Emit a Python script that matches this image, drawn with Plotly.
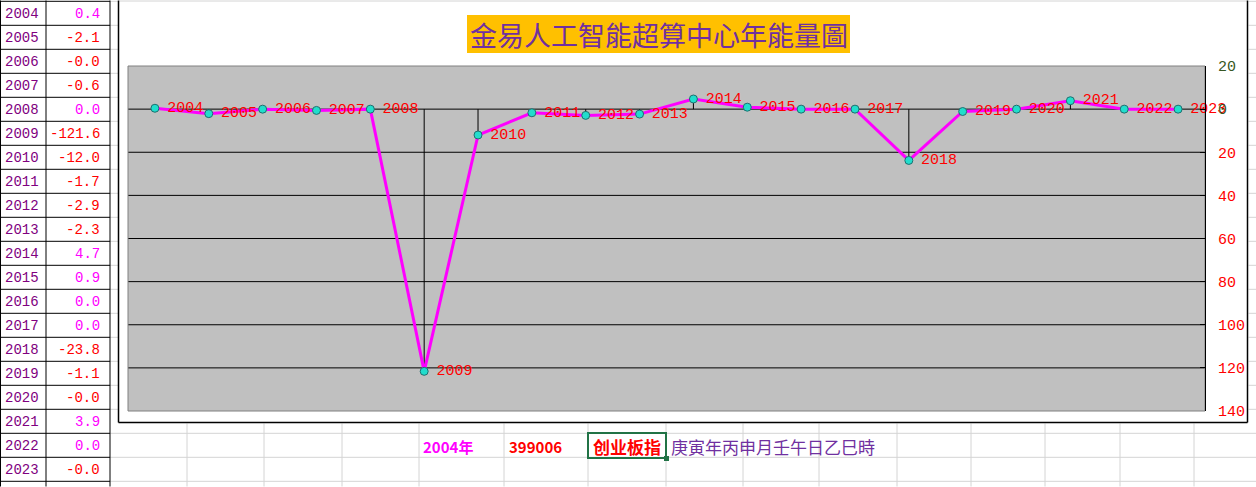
import plotly.graph_objects as go

W, H = 1256, 487

# ---------------- data ----------------
years = [str(y) for y in range(2004, 2024)]
values = [0.4, -2.1, -0.02, -0.6, 0.0, -121.6, -12.0, -1.7, -2.9, -2.3,
          4.7, 0.9, 0.0, 0.0, -23.8, -1.1, -0.02, 3.9, 0.0, -0.02]
y_ticks = [20, 0, -20, -40, -60, -80, -100, -120, -140]
title_text = "金易人工智能超算中心年能量圖"
bottom_year = "2004年"
bottom_code = "399006"
bottom_name = "创业板指"
bottom_date = "庚寅年丙申月壬午日乙巳時"


def X(px):
    return px / W


def Y(py):
    return 1 - py / H


RED = "#FF0000"
MAG = "#FF00FF"
PURPLE = "#800080"
GRID = "#D4D4D4"
GREEN = "#375623"

fig = go.Figure()

# drop lines (point to category axis)
dx, dy = [], []
for c, v in zip(years, values):
    dx += [c, c, None]
    dy += [v, 0, None]
fig.add_trace(go.Scatter(x=dx, y=dy, mode="lines", line=dict(color="black", width=1),
                         hoverinfo="skip", showlegend=False))

# main series line + markers
fig.add_trace(go.Scatter(
    x=years, y=values, mode="lines+markers",
    line=dict(color=MAG, width=3),
    marker=dict(size=8, color="#22DDCC", line=dict(color="#1F6F6F", width=1)),
    showlegend=False,
))
# data labels (right of points)
fig.add_trace(go.Scatter(
    x=years, y=values, mode="markers+text",
    marker=dict(size=18, color="rgba(0,0,0,0)"),
    text=years, textposition="middle right",
    textfont=dict(family="Liberation Mono", size=15, color=RED),
    showlegend=False, cliponaxis=False, hoverinfo="skip",
))

ticktext = []
for t in y_ticks:
    lab = str(abs(t))
    if t >= 0:
        lab = f'<span style="color:{GREEN}">{lab}</span>'
    ticktext.append(lab)


def hline(y, x0, x1, color, width=1, layer="above"):
    return dict(type="line", xref="paper", yref="paper", x0=X(x0), x1=X(x1),
                y0=Y(y), y1=Y(y), line=dict(color=color, width=width), layer=layer)


def vline(x, y0, y1, color, width=1, layer="above"):
    return dict(type="line", xref="paper", yref="paper", x0=X(x), x1=X(x),
                y0=Y(y0), y1=Y(y1), line=dict(color=color, width=width), layer=layer)


shapes = []
# spreadsheet rows
for k in range(21):
    yy = 1.3 + 24 * k
    shapes.append(hline(yy, 0, 110, "black"))
    if yy < 423:
        shapes.append(hline(yy, 110, 118, GRID))
        shapes.append(hline(yy, 1248.5, 1256, GRID))
    else:
        shapes.append(hline(yy, 110, 1256, GRID))
shapes.append(hline(1, 119, 1247, GRID))
# spreadsheet columns below the chart
for cx in [187, 264, 342, 419, 504, 588, 666, 743, 819, 897, 971, 1045, 1120, 1194]:
    shapes.append(vline(cx, 423.5, 486.5, GRID))
# table verticals
for cx in [0.5, 46, 110]:
    shapes.append(vline(cx, 0.5, 486.5, "black"))
# chart-area border (top edge is above the visible window)
shapes.append(vline(118.5, 0.5, 422.5, "black", 1.5))
shapes.append(vline(1247.5, 0.5, 422.5, "black", 1.5))
shapes.append(hline(422.5, 118.5, 1247.5, "black", 1.5))
# plot-area gridlines (black), interior ones only
for t in y_ticks[1:-1]:
    shapes.append(dict(type="line", xref="x domain", yref="y", x0=0, x1=1, y0=t, y1=t,
                       line=dict(color="black", width=1), layer="below"))
# plot-area border (gray)
shapes.append(dict(type="rect", xref="x domain", yref="y domain", x0=0, x1=1, y0=0, y1=1,
                   line=dict(color="#808080", width=1), layer="below"))
# title box
shapes.append(dict(type="rect", xref="paper", yref="paper", x0=X(467), x1=X(850),
                   y0=Y(53), y1=Y(15), fillcolor="#FFC000", line=dict(width=0)))
# selected cell
shapes.append(dict(type="rect", xref="paper", yref="paper", x0=X(588), x1=X(666),
                   y0=Y(458), y1=Y(433), line=dict(color="#217346", width=2)))
shapes.append(dict(type="rect", xref="paper", yref="paper", x0=X(664), x1=X(669),
                   y0=Y(461), y1=Y(456), fillcolor="#217346", line=dict(width=0)))

annotations = []
annotations.append(dict(text=title_text, xref="paper", yref="paper", x=X(658.5), y=Y(34),
                        xanchor="center", yanchor="middle", showarrow=False,
                        font=dict(family="Noto Sans CJK TC", size=27, color="#7030A0")))
for i, (yr, v) in enumerate(zip(years, values)):
    yc = 13.8 + 24 * i
    annotations.append(dict(text=yr, xref="paper", yref="paper", x=X(3), y=Y(yc),
                            xanchor="left", yanchor="middle", showarrow=False,
                            font=dict(family="Liberation Mono", size=14, color=PURPLE)))
    annotations.append(dict(text=f"{v:.1f}", xref="paper", yref="paper", x=X(102), y=Y(yc),
                            xanchor="right", yanchor="middle", showarrow=False,
                            font=dict(family="Liberation Mono", size=14,
                                      color=RED if v < 0 else MAG)))
by = 446
annotations.append(dict(text=f"<b>{bottom_year}</b>", xref="paper", yref="paper", x=X(421), y=Y(by),
                        xanchor="left", yanchor="middle", showarrow=False,
                        font=dict(family="Noto Sans CJK SC", size=15, color=MAG)))
annotations.append(dict(text=f"<b>{bottom_code}</b>", xref="paper", yref="paper", x=X(507), y=Y(by),
                        xanchor="left", yanchor="middle", showarrow=False,
                        font=dict(family="Noto Sans CJK SC", size=15, color=RED)))
annotations.append(dict(text=f"<b>{bottom_name}</b>", xref="paper", yref="paper", x=X(627), y=Y(by),
                        xanchor="center", yanchor="middle", showarrow=False,
                        font=dict(family="Noto Sans CJK SC", size=17, color=RED)))
annotations.append(dict(text=bottom_date, xref="paper", yref="paper", x=X(669), y=Y(by),
                        xanchor="left", yanchor="middle", showarrow=False,
                        font=dict(family="Noto Sans CJK SC", size=17, color="#7030A0")))

fig.update_layout(
    width=W, height=H, autosize=False,
    margin=dict(l=0, r=0, t=0, b=0, pad=0, autoexpand=False),
    paper_bgcolor="white", plot_bgcolor="#C0C0C0",
    showlegend=False,
    xaxis=dict(domain=[X(128), X(1205)], type="category", range=[-0.5, 19.5],
               showgrid=False, zeroline=False, showticklabels=False, showline=False,
               fixedrange=True, automargin=False),
    yaxis=dict(domain=[Y(411), Y(66)], range=[-140, 20], side="right",
               tickvals=y_ticks, ticktext=ticktext, showgrid=False, zeroline=False,
               showline=True, linecolor="black", linewidth=1,
               ticks="inside", ticklen=5, tickcolor="black",
               ticklabelstandoff=9, automargin=False,
               tickfont=dict(family="Liberation Mono", size=15, color=RED)),
    shapes=shapes, annotations=annotations,
)

fig.write_html("out.html")
